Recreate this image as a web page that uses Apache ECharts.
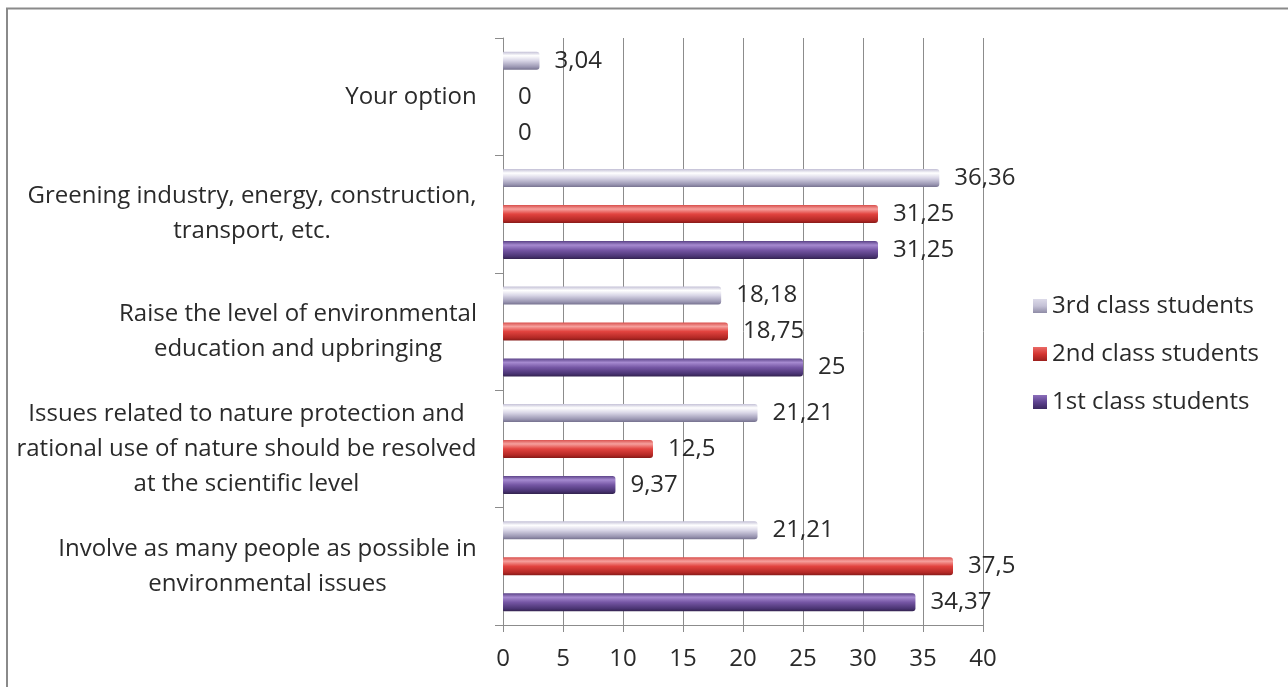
<!DOCTYPE html>
<html>
<head>
<meta charset="utf-8">
<script src="https://cdn.jsdelivr.net/npm/echarts@6/dist/echarts.min.js"></script>
<style>
  html, body { margin: 0; padding: 0; background: #fff; }
  #chart { width: 1288px; height: 687px; }
</style>
</head>
<body>
<div id="chart"></div>
<script>
// Categories listed bottom to top (category axis runs upward)
const categories = [
  'Involve as many people as possible in\nenvironmental issues',
  'Issues related to nature protection and\nrational use of nature should be resolved\nat the scientific level',
  'Raise the level of environmental\neducation and upbringing',
  'Greening industry, energy, construction,\ntransport, etc.',
  'Your option'
];
const seriesNames = ['3rd class students', '2nd class students', '1st class students'];
const thirdClass = [21.21, 21.21, 18.18, 36.36, 3.04];
const secondClass = [37.5, 12.5, 18.75, 31.25, 0];
const firstClass = [34.37, 9.37, 25, 31.25, 0];
const xTicks = { min: 0, max: 40, interval: 5 };

const FONT = '"Open Sans", "Noto Sans", sans-serif';
const FS = 24;
const TEXT = '#2a2a2a';

// Widest line of each category label, so that lines can be centred within the block
const ctx = document.createElement('canvas').getContext('2d');
ctx.font = FS + 'px "Open Sans"';
const rich = {};
categories.forEach((c, i) => {
  const w = Math.max(...c.split('\n').map(l => ctx.measureText(l).width));
  rich['c' + i] = { width: Math.ceil(w), align: 'center', fontSize: FS, fontFamily: FONT, color: TEXT, lineHeight: 35 };
});

function grad(stops) {
  return new echarts.graphic.LinearGradient(0, 0, 0, 1, stops.map(s => ({ offset: s[0], color: s[1] })));
}
// series drawn top to bottom inside each group: 3rd, 2nd, 1st
const colors = [
  grad([[0, '#c3c0d6'], [0.22, '#ffffff'], [0.5, '#d8d5e6'], [0.85, '#9a96b2'], [1, '#76728f']]),
  grad([[0, '#d9504d'], [0.22, '#f6a09d'], [0.5, '#e2433f'], [0.85, '#b32825'], [1, '#861a18']]),
  grad([[0, '#5b4388'], [0.22, '#a68ad0'], [0.5, '#7556a4'], [0.85, '#4a3473'], [1, '#33234f']])
];
// legend swatches: square gradients
const swatches = [
  grad([[0, '#dcdae8'], [0.5, '#c4c1d6'], [1, '#8f8ca6']]),
  grad([[0, '#ea6a66'], [0.5, '#d43531'], [1, '#9c201d']]),
  grad([[0, '#8c6fbb'], [0.5, '#5e4390'], [1, '#3a2860']])
];

const fmt = p => String(p.value).replace('.', ',');

const chart = echarts.init(document.getElementById('chart'), null, { renderer: 'canvas' });
chart.setOption({
  animation: false,
  backgroundColor: '#ffffff',
  textStyle: { fontFamily: FONT },
  graphic: [{
    type: 'rect', silent: true, z: 100,
    shape: { x: 7, y: 8.5, width: 1400, height: 800 },
    style: { fill: 'none', stroke: '#8a8a8a', lineWidth: 2 }
  }],
  grid: { left: 503, right: 305, top: 38, bottom: 62, containLabel: false },
  legend: {
    orient: 'vertical',
    left: 1028, top: 288,
    itemWidth: 14, itemHeight: 14,
    itemGap: 22,
    icon: 'path://M0,0H10V10H0Z',
    data: seriesNames.map((n, i) => ({
      name: n,
      itemStyle: { color: swatches[i], borderWidth: 0, borderRadius: 0 }
    })),
    textStyle: { fontSize: FS, fontFamily: FONT, color: TEXT, lineHeight: 26 }
  },
  xAxis: {
    type: 'value',
    min: xTicks.min, max: xTicks.max, interval: xTicks.interval,
    axisLine: { show: true, lineStyle: { color: '#8c8c8c', width: 1 } },
    axisTick: { show: true, length: 7, lineStyle: { color: '#8c8c8c' } },
    axisLabel: { fontSize: FS, fontFamily: FONT, color: TEXT, margin: 22 },
    splitLine: { show: true, lineStyle: { color: '#8c8c8c', width: 1 } }
  },
  yAxis: {
    type: 'category',
    data: categories,
    axisLine: { show: true, lineStyle: { color: '#8c8c8c', width: 1 } },
    axisTick: { show: true, length: 8, lineStyle: { color: '#8c8c8c' } },
    axisLabel: {
      margin: 26,
      align: 'right',
      formatter: (v, i) => v.split('\n').map(l => '{c' + i + '|' + l + '}').join('\n'),
      rich: rich
    },
    splitLine: { show: false }
  },
  series: [thirdClass, secondClass, firstClass].map((d, i) => ({
    name: seriesNames[i],
    type: 'bar',
    data: d,
    barWidth: 18,
    barGap: '100%',
    itemStyle: { color: colors[i], borderRadius: [1, 3, 3, 1] },
    label: {
      show: true, position: 'right', distance: 15,
      formatter: fmt,
      fontSize: FS, fontFamily: FONT, color: TEXT
    }
  }))
});
</script>
</body>
</html>
